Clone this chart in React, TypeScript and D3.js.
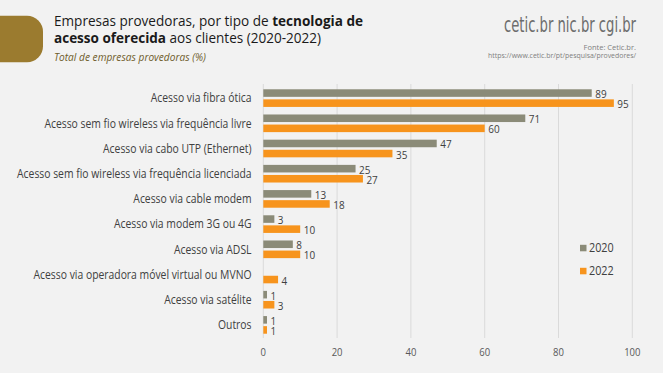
import React, { useEffect, useRef } from "react";
import * as d3 from "d3";

const categories = [
  "Acesso via fibra ótica",
  "Acesso sem fio wireless via frequência livre",
  "Acesso via cabo UTP (Ethernet)",
  "Acesso sem fio wireless via frequência licenciada",
  "Acesso via cable modem",
  "Acesso via modem 3G ou 4G",
  "Acesso via ADSL",
  "Acesso via operadora móvel virtual ou MVNO",
  "Acesso via satélite",
  "Outros",
];

const values2020: (number | null)[] = [89, 71, 47, 25, 13, 3, 8, null, 1, 1];
const values2022: (number | null)[] = [95, 60, 35, 27, 18, 10, 10, 4, 3, 1];

const seriesNames = ["2020", "2022"];
const seriesColors = ["#8b8b78", "#f7941d"];
const xTicks = [0, 20, 40, 60, 80, 100];

const W = 663;
const H = 373;
const SQUEEZE = 0.865;

const App: React.FC = () => {
  const svgRef = useRef<SVGSVGElement | null>(null);

  useEffect(() => {
    if (!svgRef.current) return;
    const svg = d3.select(svgRef.current);
    svg.selectAll("*").remove();

    svg.append("rect").attr("width", W).attr("height", H).attr("fill", "#f2f2f2");

    // gold tab
    svg.append("path")
      .attr("d", "M0,15.7 H27 A16,16 0 0 1 43,31.7 V46.3 A16,16 0 0 1 27,62.3 H0 Z")
      .attr("fill", "#9b7b2f");

    // title
    const t1 = svg.append("text")
      .attr("x", 54).attr("y", 25.5)
      .attr("font-family", "Open Sans")
      .attr("font-size", 15)
      .attr("fill", "#1a1a1a")
      .attr("textLength", 309)
      .attr("lengthAdjust", "spacingAndGlyphs");
    t1.append("tspan").text("Empresas provedoras, por tipo de ");
    t1.append("tspan").attr("font-weight", "bold").text("tecnologia de");

    const t2 = svg.append("text")
      .attr("x", 54).attr("y", 42.5)
      .attr("font-family", "Open Sans")
      .attr("font-size", 15)
      .attr("fill", "#1a1a1a")
      .attr("textLength", 267)
      .attr("lengthAdjust", "spacingAndGlyphs");
    t2.append("tspan").attr("font-weight", "bold").text("acesso oferecida");
    t2.append("tspan").text(" aos clientes (2020-2022)");

    svg.append("text")
      .attr("x", 54).attr("y", 61)
      .attr("font-family", "Open Sans")
      .attr("font-style", "italic")
      .attr("font-size", 10.5)
      .attr("fill", "#6e5c2a")
      .attr("textLength", 152)
      .attr("lengthAdjust", "spacingAndGlyphs")
      .text("Total de empresas provedoras (%)");

    // logos and source
    svg.append("text")
      .attr("x", 636).attr("y", 32)
      .attr("text-anchor", "end")
      .attr("font-family", "Liberation Sans Narrow, DejaVu Sans Condensed, Roboto")
      .attr("font-size", 22)
      .attr("fill", "#6d6d6d")
      .attr("textLength", 132)
      .attr("lengthAdjust", "spacingAndGlyphs")
      .text("cetic.br  nic.br  cgi.br");

    svg.append("text")
      .attr("x", 636).attr("y", 49.5)
      .attr("text-anchor", "end")
      .attr("font-family", "Open Sans")
      .attr("font-size", 7.5)
      .attr("fill", "#808080")
      .text("Fonte: Cetic.br.");

    svg.append("text")
      .attr("x", 636).attr("y", 58)
      .attr("text-anchor", "end")
      .attr("font-family", "Open Sans")
      .attr("font-size", 7.5)
      .attr("fill", "#808080")
      .attr("textLength", 148)
      .attr("lengthAdjust", "spacingAndGlyphs")
      .text("https://www.cetic.br/pt/pesquisa/provedores/");

    // scales
    const x = d3.scaleLinear().domain([0, 100]).range([263.3, 632.3]);
    const y = d3.scaleBand<string>()
      .domain(categories)
      .range([85.5, 337.5])
      .paddingInner(0.3)
      .paddingOuter(0.15);
    const ySub = d3.scaleBand<string>()
      .domain(seriesNames)
      .range([0, y.bandwidth()])
      .paddingInner(0.25);

    // gridlines
    svg.append("g")
      .selectAll("line")
      .data(xTicks)
      .enter()
      .append("line")
      .attr("x1", d => x(d)).attr("x2", d => x(d))
      .attr("y1", 84).attr("y2", 338)
      .attr("stroke", "#dadada")
      .attr("stroke-width", 1);

    // x tick labels
    svg.append("g")
      .selectAll("text")
      .data(xTicks)
      .enter()
      .append("text")
      .attr("transform", d => `translate(${x(d)},352) scale(${SQUEEZE},1)`)
      .attr("dy", "0.35em")
      .attr("text-anchor", "middle")
      .attr("font-family", "Open Sans")
      .attr("font-size", 11)
      .attr("fill", "#595959")
      .text(d => d);

    // category labels
    svg.append("g")
      .selectAll("text")
      .data(categories)
      .enter()
      .append("text")
      .attr("transform", d => `translate(251.5,${y(d)! + y.bandwidth() / 2}) scale(${SQUEEZE},1)`)
      .attr("dy", "0.35em")
      .attr("text-anchor", "end")
      .attr("font-family", "Open Sans")
      .attr("font-size", 12)
      .attr("fill", "#404040")
      .text(d => d);

    // bars
    const allSeries = [values2020, values2022];
    allSeries.forEach((vals, si) => {
      const rows = categories
        .map((c, i) => ({ c, v: vals[i] }))
        .filter(d => d.v !== null) as { c: string; v: number }[];
      const g = svg.append("g");
      g.selectAll("rect")
        .data(rows)
        .enter()
        .append("rect")
        .attr("x", x(0))
        .attr("y", d => y(d.c)! + ySub(seriesNames[si])!)
        .attr("width", d => x(d.v) - x(0))
        .attr("height", ySub.bandwidth())
        .attr("fill", seriesColors[si]);
      g.selectAll("text")
        .data(rows)
        .enter()
        .append("text")
        .attr("transform", d => `translate(${x(d.v) + 3.5},${y(d.c)! + ySub(seriesNames[si])! + ySub.bandwidth() / 2 + 1}) scale(${SQUEEZE},1)`)
        .attr("dy", "0.35em")
        .attr("font-family", "Open Sans")
        .attr("font-size", 11.5)
        .attr("fill", "#404040")
        .text(d => d.v);
    });

    // legend
    const legend = svg.append("g");
    seriesNames.forEach((s, i) => {
      const ly = 248 + i * 23;
      legend.append("rect")
        .attr("x", 580).attr("y", ly - 3.2)
        .attr("width", 6.5).attr("height", 6.5)
        .attr("fill", seriesColors[i]);
      legend.append("text")
        .attr("transform", `translate(589,${ly}) scale(${SQUEEZE},1)`)
        .attr("dy", "0.35em")
        .attr("font-family", "Open Sans")
        .attr("font-size", 12.5)
        .attr("fill", "#404040")
        .text(s);
    });
  }, []);

  return (
    <svg
      ref={svgRef}
      width={W}
      height={H}
      style={{ position: "absolute", left: 0, top: 0 }}
    ></svg>
  );
};

export default App;
